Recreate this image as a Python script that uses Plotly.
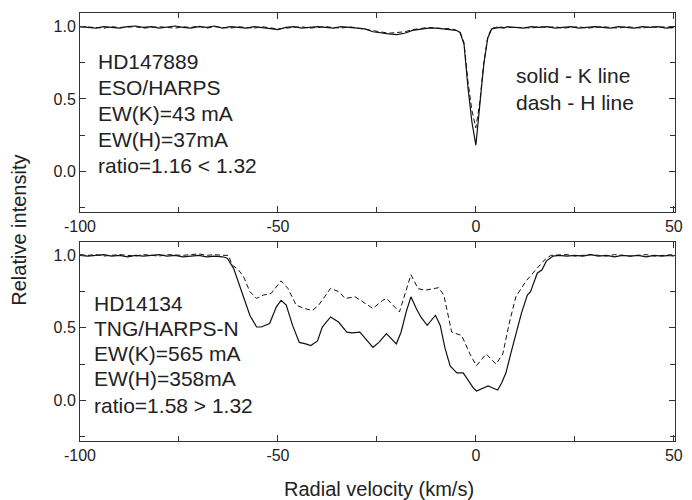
import plotly.graph_objects as go

# ---------------- data ----------------
# Top panel: HD147889 (ESO/HARPS)
top_v = [-100, -98, -96, -94, -92, -90, -88, -86, -84, -82, -80, -78, -76, -74, -72, -70,
         -68, -66, -64, -62, -60, -58, -56, -54, -52, -50, -48, -46, -44, -42, -40, -38,
         -36, -34, -32, -30, -28, -26, -24, -22, -20, -18, -16, -14, -12, -10, -8,
         -7, -6, -5, -4, -3, -2, -1, 0, 1, 2, 3, 4, 5, 6, 7,
         8, 10, 12, 14, 16, 18, 20, 22, 24, 26, 28, 30, 32, 34, 36, 38, 40, 42, 44, 46, 48, 50]
top_K = [1.00, 0.995, 0.99, 1.0, 0.995, 0.99, 1.0, 1.005, 0.995, 1.0, 0.99, 1.0, 1.005, 0.995, 0.99, 1.0,
         0.995, 1.005, 0.99, 1.0, 0.995, 0.99, 1.0, 0.995, 0.985, 0.98, 0.995, 1.0, 0.99, 0.995, 1.0, 0.995,
         0.99, 1.0, 0.995, 0.99, 0.985, 0.965, 0.955, 0.95, 0.945, 0.955, 0.975, 0.985, 0.99, 0.99, 0.985,
         0.985, 0.98, 0.975, 0.96, 0.88, 0.58, 0.34, 0.18, 0.45, 0.74, 0.92, 0.985, 0.99, 0.995, 0.99,
         1.0, 0.995, 0.99, 1.0, 0.995, 1.0, 0.99, 0.995, 1.0, 0.99, 0.995, 1.0, 0.995, 0.99, 1.0, 0.995,
         0.99, 1.0, 0.995, 1.0, 0.99, 0.995]
top_H = [1.0, 1.0, 0.995, 0.99, 1.0, 0.995, 0.995, 1.0, 0.99, 0.995, 1.0, 0.995, 0.99, 1.0, 0.995, 1.005,
         0.99, 1.0, 0.995, 0.99, 1.0, 0.995, 0.99, 1.0, 0.99, 0.985, 0.99, 0.995, 1.0, 0.99, 0.995, 1.0,
         0.995, 0.99, 1.0, 0.99, 0.98, 0.97, 0.96, 0.955, 0.96, 0.965, 0.98, 0.99, 0.995, 0.99, 0.99,
         0.99, 0.985, 0.975, 0.965, 0.89, 0.62, 0.42, 0.30, 0.48, 0.75, 0.93, 0.99, 0.995, 1.0, 0.995,
         0.995, 1.0, 0.995, 0.99, 1.0, 0.995, 1.0, 0.99, 0.995, 1.0, 0.99, 0.995, 1.0, 0.995, 0.99, 1.0,
         0.995, 0.99, 1.0, 0.995, 1.0, 0.99]

# Bottom panel: HD14134 (TNG/HARPS-N)
bot_K_v = [-100, -98, -96, -94, -92, -90, -88, -86, -84, -82, -80, -78, -76, -74, -72, -70, -68, -66, -64,
           -62.8, -61.2, -59, -57.1, -55.4, -54.2, -52.1, -50.4, -49.2, -47.9, -46.3, -44.6, -43, -41.7,
           -40, -38.8, -36.7, -34.7, -32.6, -31.3, -29.3, -27.6, -26, -24.5, -22.6, -20.1, -18.9, -17.5,
           -16.4, -15, -13.9, -12.3, -10.2, -9, -7.8, -6.5, -4.8, -3.2, -2, -0.7, 0.15, 1.5, 3.1, 4.3,
           5.5, 6.5, 7.6, 8.8, 10.1, 11.5, 13, 13.8, 15.5, 16.7, 17.8, 19.5,
           21, 23, 25, 27, 29, 31, 33, 35, 37, 39, 41, 43, 45, 47, 49, 50]
bot_K = [1.0, 0.995, 1.0, 1.005, 0.995, 1.0, 0.99, 1.0, 0.995, 1.0, 1.005, 0.995, 1.0, 0.99, 0.995, 1.0, 0.99, 0.995, 0.99,
         0.98, 0.91, 0.74, 0.587, 0.506, 0.506, 0.53, 0.645, 0.69, 0.657, 0.517, 0.40, 0.39, 0.378,
         0.41, 0.506, 0.575, 0.54, 0.47, 0.466, 0.47, 0.413, 0.366, 0.40, 0.46, 0.39, 0.47, 0.62,
         0.714, 0.63, 0.575, 0.517, 0.587, 0.517, 0.36, 0.238, 0.19, 0.19, 0.14, 0.088, 0.065, 0.08, 0.10, 0.085,
         0.072, 0.12, 0.19, 0.32, 0.448, 0.60, 0.726, 0.75, 0.877, 0.90, 0.96, 0.995,
         1.0, 0.995, 1.0, 0.995, 1.005, 0.995, 1.0, 0.99, 1.0, 0.995, 1.0, 0.99, 1.0, 0.995, 1.0, 0.995]

bot_H_v = [-100, -98, -96, -94, -92, -90, -88, -86, -84, -82, -80, -78, -76, -74, -72, -70, -68, -66, -64,
           -62.5, -61.6, -60, -58.7, -57.1, -55.4, -53.7, -51.7, -49.2, -47.5, -45.4, -43.4, -41.3, -39.7,
           -36.7, -34.7, -33, -30.5, -28.5, -26, -23.5, -22.6, -19.3, -16.4, -14.6, -12.7, -9.4, -8.1, -6.1,
           -3.6, -1.5, 0.15, 2.6, 5.1, 6.8, 8.5, 10.1, 12.6, 15.1, 16.3, 17.6, 19,
           21, 23, 25, 27, 29, 31, 33, 35, 37, 39, 41, 43, 45, 47, 49, 50]
bot_H = [1.005, 1.0, 1.005, 0.995, 1.0, 1.005, 1.0, 0.995, 1.005, 1.0, 0.995, 1.005, 1.0, 1.0, 1.005, 1.01, 1.0, 1.005, 1.0,
         1.0, 0.935, 0.9, 0.854, 0.75, 0.703, 0.726, 0.738, 0.824, 0.773, 0.657, 0.634, 0.62, 0.657,
         0.773, 0.75, 0.703, 0.714, 0.68, 0.634, 0.69, 0.703, 0.61, 0.866, 0.77, 0.76, 0.777, 0.726, 0.47,
         0.448, 0.32, 0.239, 0.32, 0.25, 0.32, 0.54, 0.714, 0.82, 0.9, 0.935, 0.975, 1.0,
         1.0, 1.005, 0.995, 1.0, 1.005, 1.0, 0.995, 1.005, 1.0, 0.995, 1.0, 1.005, 0.995, 1.0, 1.0, 1.005]

top_text = ["HD147889", "ESO/HARPS", "EW(K)=43 mA", "EW(H)=37mA", "ratio=1.16 < 1.32"]
top_text_y = [0.76, 0.58, 0.40, 0.22, 0.039]
bot_text = ["HD14134", "TNG/HARPS-N", "EW(K)=565 mA", "EW(H)=358mA", "ratio=1.58 > 1.32"]
bot_text_y = [0.666, 0.497, 0.32, 0.15, -0.038]
key_text = ["solid - K line", "dash - H line"]
key_text_y = [0.66, 0.474]

x_ticks = [-100, -50, 0, 50]
y_ticks = [0.0, 0.5, 1.0]

# ---------------- figure ----------------
FONT = "Liberation Sans, Arial, sans-serif"
TXT = "#222222"
AX = "#333333"

fig = go.Figure()
fig.add_trace(go.Scatter(x=top_v, y=top_H, mode="lines", xaxis="x", yaxis="y",
                         line=dict(color="#111111", width=1, dash="5px,3px"), showlegend=False))
fig.add_trace(go.Scatter(x=top_v, y=top_K, mode="lines", xaxis="x", yaxis="y",
                         line=dict(color="#111111", width=1.2), showlegend=False))
fig.add_trace(go.Scatter(x=bot_H_v, y=bot_H, mode="lines", xaxis="x2", yaxis="y2",
                         line=dict(color="#111111", width=1, dash="5px,3px"), showlegend=False))
fig.add_trace(go.Scatter(x=bot_K_v, y=bot_K, mode="lines", xaxis="x2", yaxis="y2",
                         line=dict(color="#111111", width=1.2), showlegend=False))

xax = dict(range=[-100, 50.3], tickvals=x_ticks, ticktext=[str(t) for t in x_ticks],
           ticks="inside", ticklen=6, tickcolor=AX, showline=True, linecolor=AX, linewidth=1,
           mirror="allticks", showgrid=False, zeroline=False,
           minor=dict(dtick=25, tick0=0, ticks="inside", ticklen=5, tickcolor=AX, showgrid=False),
           tickfont=dict(size=16, color=TXT, family=FONT))
yax = dict(range=[-0.28, 1.095], tickvals=y_ticks, ticktext=["0.0", "0.5", "1.0"],
           ticks="inside", ticklen=6, tickcolor=AX, showline=True, linecolor=AX, linewidth=1,
           mirror="allticks", showgrid=False, zeroline=False,
           minor=dict(dtick=0.25, tick0=0, ticks="inside", ticklen=5, tickcolor=AX, showgrid=False),
           tickfont=dict(size=16, color=TXT, family=FONT))

fig.update_layout(
    width=692, height=500,
    margin=dict(l=80, r=9, t=13, b=59),
    paper_bgcolor="white", plot_bgcolor="white",
    font=dict(family=FONT, color=TXT),
    xaxis=dict(xax, anchor="y", domain=[0, 1]),
    yaxis=dict(yax, anchor="x", domain=[0.536, 1]),
    xaxis2=dict(xax, anchor="y2", domain=[0, 1]),
    yaxis2=dict(yax, anchor="x2", domain=[0, 0.466]),
)

for t, yy in zip(top_text, top_text_y):
    fig.add_annotation(x=-96, y=yy, xref="x", yref="y", xanchor="left", yanchor="middle",
                       text=t, showarrow=False, font=dict(size=21, color=TXT, family=FONT))
for t, yy in zip(key_text, key_text_y):
    fig.add_annotation(x=9.7, y=yy, xref="x", yref="y", xanchor="left", yanchor="middle",
                       text=t, showarrow=False, font=dict(size=21, color=TXT, family=FONT))
for t, yy in zip(bot_text, bot_text_y):
    fig.add_annotation(x=-97, y=yy, xref="x2", yref="y2", xanchor="left", yanchor="middle",
                       text=t, showarrow=False, font=dict(size=21, color=TXT, family=FONT))

fig.add_annotation(x=-0.103, y=0.493, xref="paper", yref="paper", xanchor="center", yanchor="middle",
                   text="Relative intensity", textangle=-90, showarrow=False,
                   font=dict(size=20, color=TXT, family=FONT))
fig.add_annotation(x=0.5025, y=-0.112, xref="paper", yref="paper", xanchor="center", yanchor="middle",
                   text="Radial velocity (km/s)", showarrow=False,
                   font=dict(size=20, color=TXT, family=FONT))

fig.write_html("out.html")
